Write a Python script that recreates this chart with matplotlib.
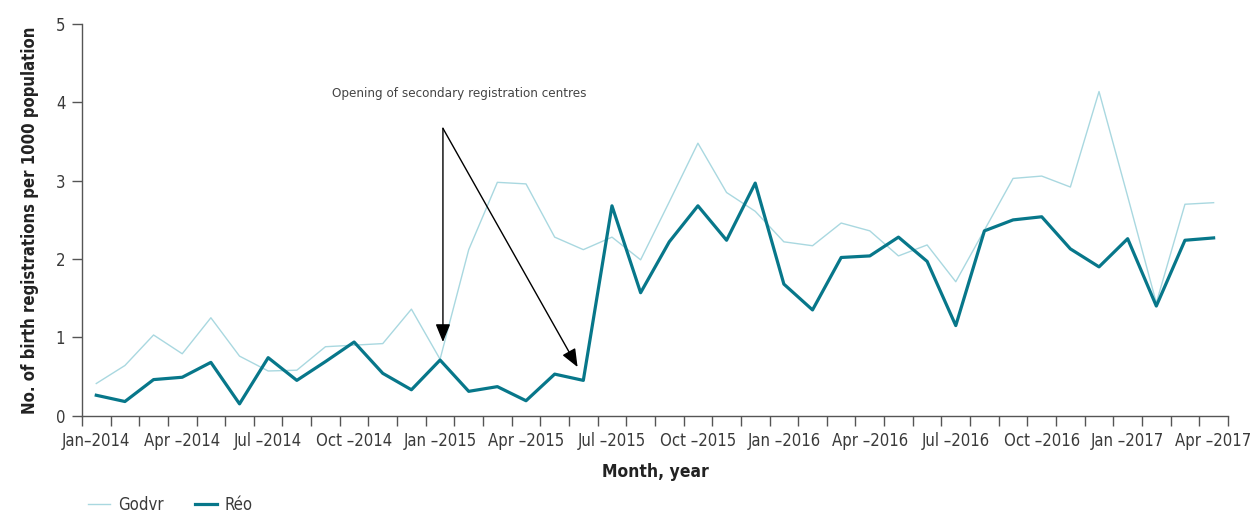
import numpy as np
import matplotlib
matplotlib.use("Agg")
import matplotlib.pyplot as plt
from matplotlib.ticker import FixedLocator

# ── DATA ──────────────────────────────────────────────────────────────
months = ['Jan', 'Feb', 'Mar', 'Apr', 'May', 'Jun',
          'Jul', 'Aug', 'Sep', 'Oct', 'Nov', 'Dec']
periods = [f'{months[i % 12]}-{2014 + i // 12}' for i in range(40)]

godvr = [0.41, 0.64, 1.03, 0.79, 1.25, 0.76, 0.57, 0.58, 0.88, 0.90, 0.92, 1.36,
         0.72, 2.12, 2.98, 2.96, 2.28, 2.12, 2.28, 1.99, 2.73, 3.48, 2.85, 2.61,
         2.22, 2.17, 2.46, 2.36, 2.04, 2.18, 1.71, 2.37, 3.03, 3.06, 2.92, 4.14,
         2.80, 1.44, 2.70, 2.72]
reo = [0.26, 0.18, 0.46, 0.49, 0.68, 0.15, 0.74, 0.45, 0.69, 0.94, 0.54, 0.33,
       0.71, 0.31, 0.37, 0.19, 0.53, 0.45, 2.68, 1.57, 2.22, 2.68, 2.24, 2.97,
       1.68, 1.35, 2.02, 2.04, 2.28, 1.97, 1.15, 2.36, 2.50, 2.54, 2.13, 1.90,
       2.26, 1.40, 2.24, 2.27]

tick_idx = list(range(0, 40, 3))
tick_labels = ['Jan\u20132014'] + [
    f'{months[i % 12]} \u2013{2014 + i // 12}' for i in tick_idx[1:]]

light_col = '#a9d8e0'
dark_col = '#07778a'
text_col = '#3a3a3a'

fprops = dict(family='DejaVu Sans', stretch='condensed')

# ── FIGURE ────────────────────────────────────────────────────────────
fig = plt.figure(figsize=(12.53, 5.15), dpi=100)
ax = fig.add_axes([0.0654, 0.193, 0.9146, 0.760])

x = np.arange(len(periods))
ax.plot(x, godvr, color=light_col, linewidth=1.0, label='Godvr')
ax.plot(x, reo, color=dark_col, linewidth=2.3, label='R\u00e9o')

ax.set_xlim(-0.5, 39.5)
ax.set_ylim(0, 5)

for s in ['top', 'right']:
    ax.spines[s].set_visible(False)
for s in ['left', 'bottom']:
    ax.spines[s].set_color('#555555')
    ax.spines[s].set_linewidth(1.0)

ax.set_xticks(tick_idx)
ax.set_xticklabels(tick_labels, fontsize=12, color=text_col, **fprops)
ax.xaxis.set_minor_locator(FixedLocator(np.arange(-0.5, 40, 1)))
ax.tick_params(axis='x', which='major', length=0, pad=12)
ax.tick_params(axis='x', which='minor', length=7, color='#555555', width=1.0)

ax.set_yticks(range(6))
ax.set_yticklabels([str(v) for v in range(6)], fontsize=12,
                   color=text_col, **fprops)
ax.tick_params(axis='y', length=7, color='#555555', width=1.0, pad=5)

ax.set_xlabel('Month, year', fontsize=12.5, fontweight='bold',
              color='#222222', labelpad=9, **fprops)
ax.set_ylabel('No. of birth registrations per 1000 population',
              fontsize=12, fontweight='bold', color='#222222',
              labelpad=12, **fprops)

# ── ANNOTATION ────────────────────────────────────────────────────────
ax.text(12.66, 4.12, 'Opening of secondary registration centres',
        fontsize=9.6, color='#444444', ha='center', va='center', **fprops)
arrow_kw = dict(arrowstyle='-|>,head_length=1.1,head_width=0.45',
                color='black', linewidth=1.0, shrinkA=0, shrinkB=0)
ax.annotate('', xy=(12.1, 0.94), xytext=(12.1, 3.67), arrowprops=arrow_kw)
ax.annotate('', xy=(16.8, 0.62), xytext=(12.1, 3.67), arrowprops=arrow_kw)

# ── LEGEND ────────────────────────────────────────────────────────────
leg = fig.legend(loc='lower left', bbox_to_anchor=(0.058, -0.027), ncol=2,
                 frameon=False, prop={**fprops, 'size': 12},
                 handlelength=1.35, handletextpad=0.45, columnspacing=1.9)
for t in leg.get_texts():
    t.set_color(text_col)

fig.savefig('out.png', dpi=100)
